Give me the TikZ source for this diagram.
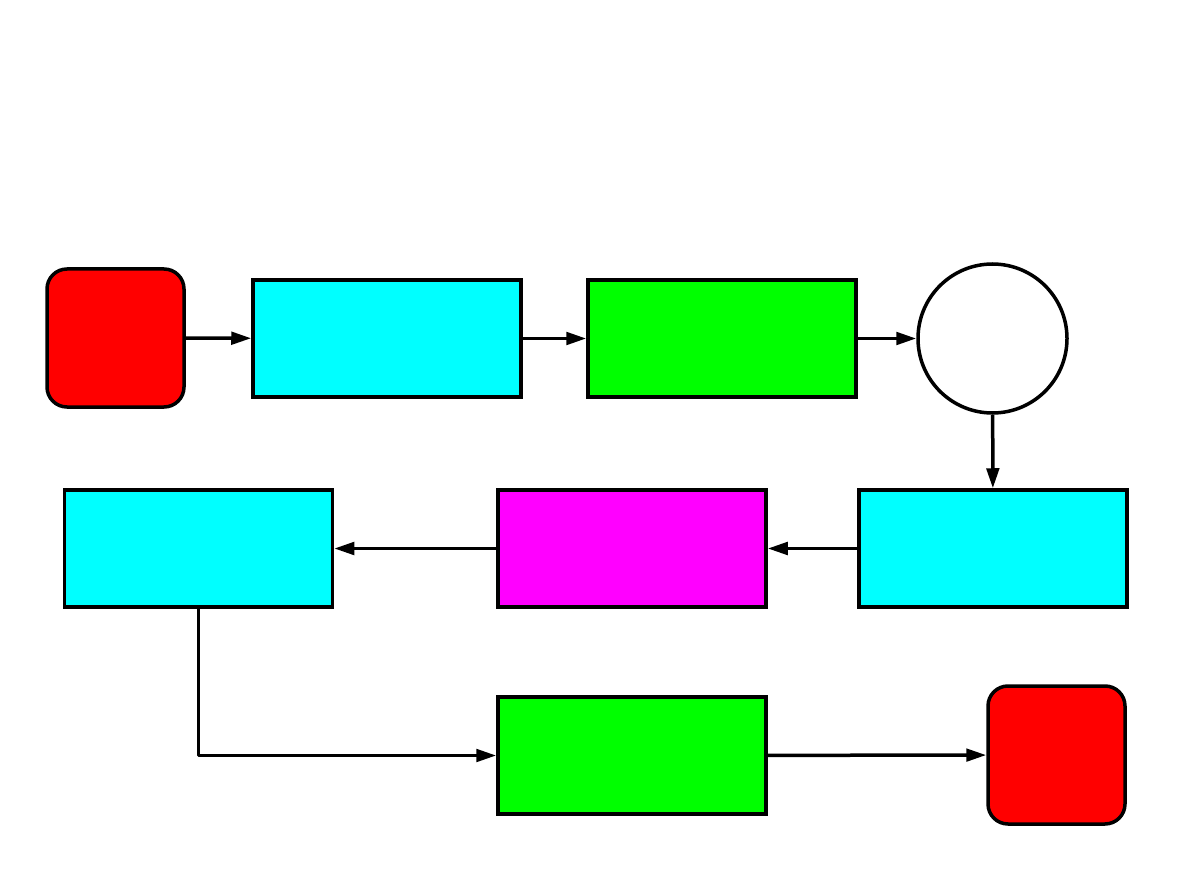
\documentclass[tikz,border=0pt]{standalone}
\usetikzlibrary{arrows.meta}
\definecolor{fcyan}{RGB}{0,255,255}
\definecolor{fgreen}{RGB}{0,255,0}
\definecolor{fmag}{RGB}{255,0,255}
\definecolor{fred}{RGB}{255,0,0}
\begin{document}
\begin{tikzpicture}[x=1pt,y=-1pt,
  box/.style={draw=black,line width=3.5pt,rectangle,minimum width=268pt,minimum height=117pt,inner sep=0pt},
  term/.style={draw=black,line width=3.5pt,rectangle,rounded corners=20pt,fill=fred,minimum width=137pt,minimum height=138pt,inner sep=0pt},
  dec/.style={draw=black,line width=3.5pt,circle,fill=white,minimum size=149pt,inner sep=0pt},
  conn/.style={line width=3.5pt,-{Triangle[length=20pt,width=12.5pt]}}]
\useasboundingbox (0,0) rectangle (1191,893);
\node[term] (start) at (115.5,338) {};
\node[box,fill=fcyan] (c1) at (387,338.5) {};
\node[box,fill=fgreen] (g1) at (722,338.5) {};
\node[dec] (dc) at (992.5,338.5) {};
\node[box,fill=fcyan] (c2) at (993,548.5) {};
\node[box,fill=fmag] (m) at (632,548.5) {};
\node[box,fill=fcyan] (c3) at (198.5,548.5) {};
\node[box,fill=fgreen] (g2) at (632,755.5) {};
\node[term] (stop) at (1056.5,755) {};
\draw[conn] (start) -- (c1);
\draw[conn] (c1) -- (g1);
\draw[conn] (g1) -- (dc);
\draw[conn] (dc) -- (c2);
\draw[conn] (c2) -- (m);
\draw[conn] (m) -- (c3);
\draw[conn,line join=round] (c3.south) |- (g2.west);
\draw[conn] (g2) -- (stop);
\end{tikzpicture}
\end{document}
